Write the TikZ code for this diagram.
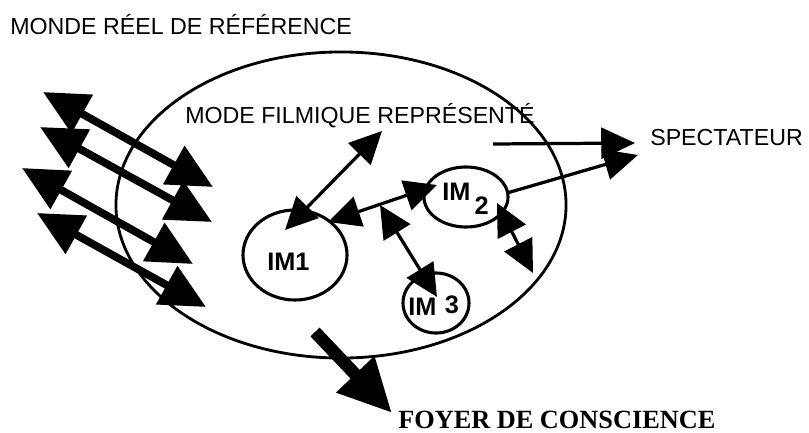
\documentclass[tikz,border=0pt]{standalone}
\usepackage{fontspec}
\setmainfont{Liberation Serif}
\setsansfont{Liberation Sans}
\usetikzlibrary{arrows.meta,shapes.geometric}

\tikzset{
    titre/.style={inner sep=0pt, font=\sffamily\fontsize{16.5}{18}\selectfont},
    imtexte/.style={inner sep=0pt, font=\sffamily\bfseries\fontsize{18}{20}\selectfont},
    bulle/.style={draw, ellipse, line width=2.2pt, inner sep=0pt},
    grosse/.style={line width=5.5pt, {Triangle[length=32pt,width=30pt]}-{Triangle[length=32pt,width=30pt]}},
    fine/.style={line width=2.3pt, {Triangle[length=23pt,width=22pt]}-{Triangle[length=23pt,width=22pt]}},
    simple/.style={line width=2.3pt, -{Triangle[length=24pt,width=22pt]}},
}

\begin{document}
\begin{tikzpicture}[x=0.025cm, y=-0.025cm]

    \useasboundingbox (0,0) rectangle (809,433);

    % 文字
    \node[titre, anchor=base west] (monde) at (10,35) {MONDE RÉEL DE RÉFÉRENCE};
    \node[titre, anchor=base west] (mode) at (185,123) {MODE FILMIQUE REPRÉSENTÉ};
    \node[titre, anchor=base west] (spect) at (650,146) {SPECTATEUR};
    \node[inner sep=0pt, anchor=base west, font=\bfseries\fontsize{18.7}{20}\selectfont] (foyer) at (398,428) {FOYER DE CONSCIENCE};

    % 椭圆
    \node[bulle, line width=2pt, minimum width=11.25cm, minimum height=7.65cm] (film) at (341,205) {};
    \node[bulle, minimum width=2.6cm, minimum height=2.25cm] (im1) at (295,255) {};
    \node[bulle, minimum width=2.1cm, minimum height=1.5cm] (im2) at (466,197) {};
    \node[bulle, minimum width=1.65cm, minimum height=1.5cm] (im3) at (436,303) {};
    \node[imtexte, anchor=base west] (im1txt) at (267,270) {IM1};
    \node[imtexte, anchor=base west] (im2txt) at (442,200) {IM\,\raisebox{-10pt}{2}};
    \node[imtexte, anchor=base west] (im3txt) at (408,315) {IM\,\,\raisebox{1pt}{3}};

    % 左边的粗箭头
    \draw[grosse] (43,92) -- (213,187);
    \draw[grosse] (40,127) -- (212,222);
    \draw[grosse] (22,168) -- (193,264);
    \draw[grosse] (37,213) -- (206,307);

    % 端点
    \coordinate (a1) at (285,230);
    \coordinate (a2) at (382,131);
    \coordinate (b1) at (328,222);
    \coordinate (b2) at (437,185);
    \coordinate (c1) at (380,205);
    \coordinate (c2) at (437,297);
    \coordinate (d1) at (497,203);
    \coordinate (d2) at (533,273);
    \coordinate (e1) at (507,193);
    \coordinate (e2) at (638,155);
    \coordinate (f1) at (493,144);
    \coordinate (f2) at (635,143);
    \coordinate (g1) at (315,332);
    \coordinate (g2) at (392,413);

    % 细箭头
    \draw[fine] (a1) -- (a2);
    \draw[fine] (b1) -- (b2);
    \draw[fine] (c1) -- (c2);
    \draw[fine] (d1) -- (d2);
    \draw[simple] (e1) -- (e2);
    \draw[simple] (f1) -- (f2);

    % 意识焦点
    \draw[line width=9pt, -{Triangle[length=38pt,width=35pt]}] (g1) -- (g2);

\end{tikzpicture}
\end{document}
